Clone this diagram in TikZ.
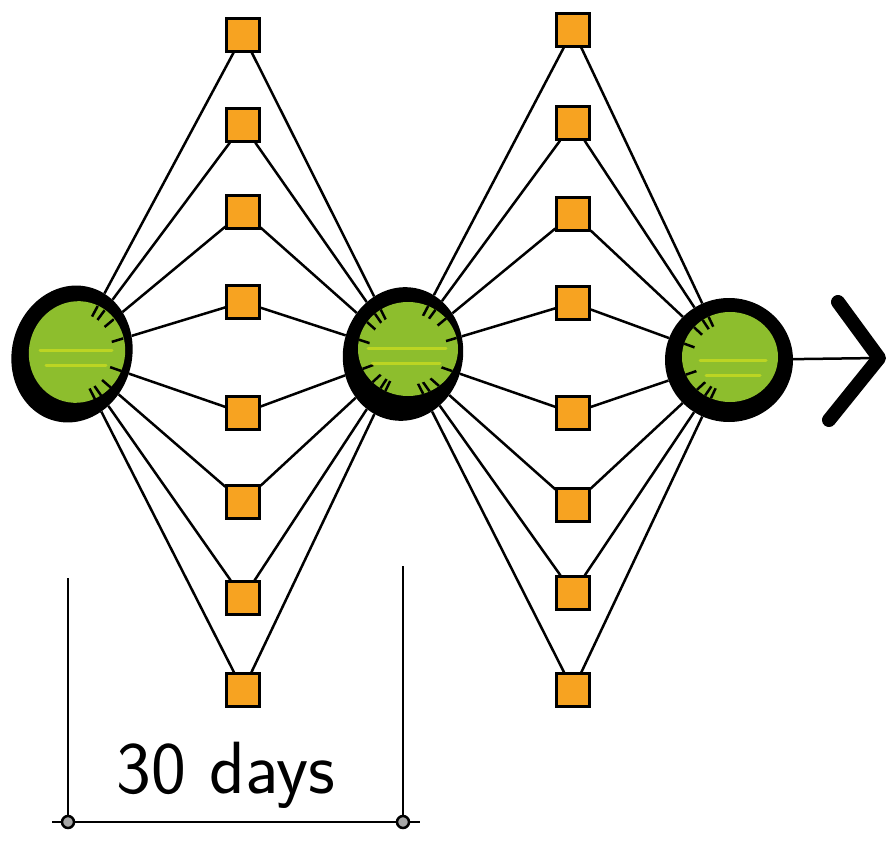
\documentclass[tikz,border=0pt]{standalone}
\usepackage{tikz}
\usetikzlibrary{positioning,calc,shapes.geometric}
\pgfdeclarelayer{bg}
\pgfsetlayers{bg,main}
\definecolor{hubgreen}{RGB}{141,190,45}
\definecolor{hubshine}{RGB}{208,224,32}
\definecolor{boxorange}{RGB}{247,163,33}

\tikzset{
  hubrim/.style={ellipse, fill=black, inner sep=0pt},
  hubcore/.style={ellipse, fill=hubgreen, inner sep=0pt},
  sqbox/.style={rectangle, draw=black, line width=2.2pt, fill=boxorange, minimum size=33pt, inner sep=0pt},
  link/.style={line width=2.5pt},
  shine/.style={hubshine, line width=3pt, line cap=round, opacity=0.7},
  dimdot/.style={circle, draw=black, line width=2.5pt, fill=gray!70, minimum size=12pt, inner sep=0pt},
}

\begin{document}
\begin{tikzpicture}[x=1pt,y=-1pt]
\useasboundingbox (0,0) rectangle (892,845);

% Drei Meilensteine
\node[hubrim, minimum width=120pt, minimum height=138pt, rotate=-15] (hubA) at (72,354) {};
\node[hubrim, minimum width=120pt, minimum height=134pt, rotate=-10] (hubB) at (403,354) {};
\node[hubrim, minimum width=128pt, minimum height=124pt] (hubC) at (729,360) {};
\node[hubcore, minimum width=96pt, minimum height=102pt, rotate=-15] (coreA) at (77,352) {};
\node[hubcore, minimum width=100pt, minimum height=94pt] (coreB) at (408,349) {};
\node[hubcore, minimum width=96pt, minimum height=90pt] (coreC) at (730,357) {};

% Aufgaben zwischen den Meilensteinen
\foreach \y [count=\i] in {35,125,212,302,413,502,598,690} {
    \node[sqbox] (sqA\i) at (243,\y) {};
}
\foreach \y [count=\i] in {30,123,214,303,413,505,593,690} {
    \node[sqbox] (sqB\i) at (573,\y) {};
}

\begin{pgfonlayer}{bg}
\foreach \i in {1,...,8} {
    \draw[link] (hubA) -- (sqA\i) -- (hubB);
    \draw[link] (hubB) -- (sqB\i) -- (hubC);
}
\end{pgfonlayer}

% Striche im Gruen
\begin{scope}[even odd rule]
\clip (77,352) ellipse [x radius=48, y radius=51] (77,352) ellipse [x radius=36, y radius=39];
\foreach \i in {1,...,8} {
    \draw[link] (hubA.center) -- (sqA\i.center);
}
\end{scope}
\begin{scope}[even odd rule]
\clip (408,349) ellipse [x radius=50, y radius=47] (408,349) ellipse [x radius=39, y radius=36];
\foreach \i in {1,...,8} {
    \draw[link] (hubB.center) -- (sqA\i.center);
    \draw[link] (hubB.center) -- (sqB\i.center);
}
\end{scope}
\begin{scope}[even odd rule]
\clip (730,357) ellipse [x radius=48, y radius=45] (730,357) ellipse [x radius=37, y radius=34];
\foreach \i in {1,...,8} {
    \draw[link] (hubC.center) -- (sqB\i.center);
}
\end{scope}

% Glanz
\draw[shine] (40,350) -- (112,350);
\draw[shine] (46,365) -- (106,365);
\draw[shine] (368,348) -- (446,348);
\draw[shine] (372,363) -- (440,363);
\draw[shine] (700,360) -- (766,360);
\draw[shine] (706,375) -- (760,375);

% Pfeil
\coordinate (tip) at (879,358);
\coordinate (tipT) at (838,302);
\coordinate (tipB) at (829,420);
\draw[link] (hubC) -- (tip);
\draw[line width=14pt, line cap=round, line join=round] (tipT) -- (tip) -- (tipB);

% Zeitspanne
\coordinate (dimLtop) at (68,578);
\coordinate (dimRtop) at (403,566);
\coordinate (dimLend) at (52,822);
\coordinate (dimRend) at (420,822);
\node[dimdot] (dotL) at (68,822) {};
\node[dimdot] (dotR) at (403,822) {};
\draw[link] (dimLtop) -- (dotL);
\draw[link] (dimRtop) -- (dotR);
\draw[link] (dimLend) -- (dotL) -- (dotR) -- (dimRend);
\node[anchor=base, font=\sffamily\fontsize{74}{80}\selectfont] (spanlabel) at (226,793) {30 days};
\end{tikzpicture}
\end{document}
